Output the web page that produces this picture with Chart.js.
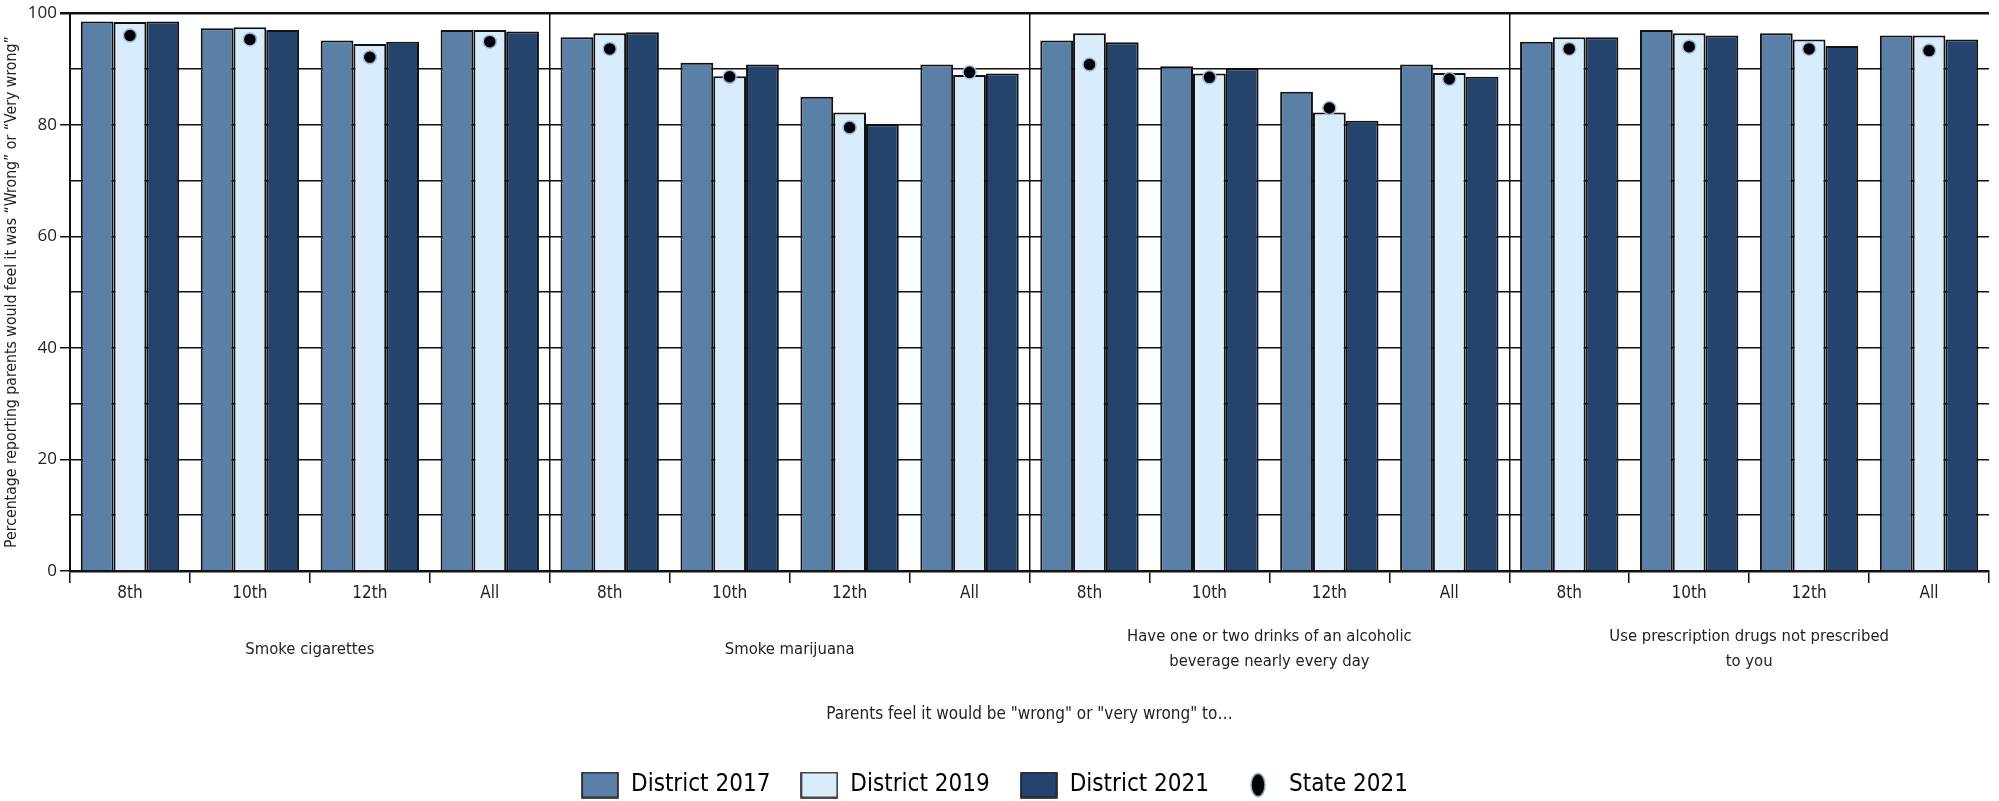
<!DOCTYPE html>
<html>
<head>
<meta charset="utf-8">
<title>Parents feel it would be wrong</title>
<script src="https://cdn.jsdelivr.net/npm/chart.js@4.4.0/dist/chart.umd.min.js"></script>
<style>
  html, body { margin: 0; padding: 0; background: #fff; }
</style>
</head>
<body>
<canvas id="myChart" width="1999" height="801"></canvas>
<script>
// categories under each group
const grades = ['8th', '10th', '12th', 'All'];
const groups = [
    'Smoke cigarettes',
    'Smoke marijuana',
    ['Have one or two drinks of an alcoholic', 'beverage nearly every day'],
    ['Use prescription drugs not prescribed', 'to you']
];
const seriesNames = ['District 2017', 'District 2019', 'District 2021', 'State 2021'];
const yTicks = [0, 20, 40, 60, 80, 100];

// values, four per group (8th, 10th, 12th, All)
const district2017 = [98.5, 97.3, 95.1, 97.0, 95.7, 91.1, 85.0, 90.8, 95.1, 90.5, 85.9, 90.8, 94.9, 97.0, 96.4, 96.0];
const district2019 = [98.4, 97.5, 94.5, 97.0, 96.4, 88.7, 82.2, 88.9, 96.4, 89.2, 82.2, 89.3, 95.7, 96.4, 95.3, 96.0];
const district2021 = [98.5, 97.0, 94.9, 96.7, 96.6, 90.8, 80.1, 89.2, 94.8, 90.1, 80.7, 88.6, 95.7, 96.0, 94.1, 95.3];
const state2021 = [96.0, 95.3, 92.1, 94.9, 93.6, 88.6, 79.5, 89.4, 90.8, 88.5, 83.0, 88.2, 93.6, 94.0, 93.6, 93.3];

const FONT = "'Liberation Sans Narrow', 'DejaVu Sans Condensed', sans-serif";
const colors = ['#5b80a8', '#d9ecfc', '#25446d'];
const lineCol = '#111';

Chart.defaults.font.family = FONT;
Chart.defaults.color = '#222';

// little pictures for the legend keys
function legendBox(fill) {
    var c = document.createElement('canvas');
    c.width = 38; c.height = 27;
    var g = c.getContext('2d');
    g.fillStyle = fill;
    g.fillRect(1, 1, 36, 25);
    g.strokeStyle = lineCol;
    g.lineWidth = 1.5;
    g.strokeRect(1, 1, 36, 25);
    return c;
}
function legendDot() {
    var c = document.createElement('canvas');
    c.width = 18; c.height = 27;
    var g = c.getContext('2d');
    g.beginPath();
    g.ellipse(9, 13.5, 7, 11.5, 0, 0, Math.PI * 2);
    g.fillStyle = '#000';
    g.fill();
    g.strokeStyle = '#8fb0d6';
    g.lineWidth = 1.5;
    g.stroke();
    return c;
}
const legendIcons = [legendBox(colors[0]), legendBox(colors[1]), legendBox(colors[2]), legendDot()];

const labels = groups.flatMap(() => grades);

function barSet(i, values) {
    return {
        label: seriesNames[i],
        data: values,
        backgroundColor: colors[i],
        borderColor: lineCol,
        borderWidth: 2,
        categoryPercentage: 0.82,
        barPercentage: 1.0,
        order: 1
    };
}

const data = {
    labels: labels,
    datasets: [
        barSet(0, district2017),
        barSet(1, district2019),
        barSet(2, district2021),
        {
            type: 'line',
            label: seriesNames[3],
            data: state2021,
            showLine: false,
            pointRadius: 6.5,
            pointBackgroundColor: '#000',
            pointBorderColor: '#9dbbe0',
            pointBorderWidth: 1.5,
            order: 0
        }
    ]
};

const config = {
    type: 'bar',
    data: data,
    options: {
        responsive: false,
        animation: false,
        events: [],
        layout: { padding: { top: 13, right: 10, left: 0, bottom: -6 } },
        plugins: {
            tooltip: { enabled: false },
            legend: {
                position: 'bottom',
                labels: {
                    usePointStyle: true,
                    pointStyleWidth: 38,
                    boxHeight: 24,
                    padding: 30,
                    font: { size: 24 },
                    color: '#222',
                    sort: (a, b) => a.datasetIndex - b.datasetIndex,
                    generateLabels: function (chart) {
                        return chart.data.datasets.map(function (ds, i) {
                            return {
                                text: ds.label,
                                datasetIndex: i,
                                pointStyle: legendIcons[i],
                                fillStyle: 'transparent',
                                strokeStyle: 'transparent',
                                lineWidth: 0,
                                hidden: false
                            };
                        });
                    }
                }
            }
        },
        scales: {
            x: {
                position: 'bottom',
                grid: {
                    offset: true,
                    color: ctx => ctx.index % 4 === 0 ? lineCol : 'rgba(0,0,0,0)',
                    lineWidth: 1.5,
                    tickColor: lineCol,
                    tickLength: 12
                },
                border: { color: lineCol, width: 2.5 },
                ticks: { font: { size: 17 }, padding: 0, maxRotation: 0, autoSkip: false },
                afterFit: s => { s.height = 40; }
            },
            x2: {
                type: 'category',
                position: 'bottom',
                labels: groups,
                offset: true,
                grid: { display: false },
                border: { display: false },
                ticks: {
                    font: { size: 16.5, lineHeight: 1.5 },
                    padding: 18,
                    maxRotation: 0,
                    autoSkip: false,
                    crossAlign: 'center'
                },
                title: {
                    display: true,
                    text: 'Parents feel it would be "wrong" or "very wrong" to\u2026',
                    font: { size: 17 },
                    padding: { top: 0, bottom: 18 }
                },
                afterFit: s => { s.height = 132; }
            },
            y: {
                min: 0,
                max: 100,
                ticks: {
                    stepSize: 10,
                    padding: 3,
                    font: { size: 17, family: "'Open Sans', sans-serif" },
                    callback: v => yTicks.includes(v) ? v : ''
                },
                grid: {
                    color: lineCol,
                    lineWidth: ctx => ctx.tick && ctx.tick.value === 100 ? 2.5 : 1.5,
                    tickColor: ctx => ctx.tick && yTicks.includes(ctx.tick.value) ? lineCol : 'rgba(0,0,0,0)',
                    tickLength: 10
                },
                border: { color: lineCol, width: 2 },
                title: {
                    display: true,
                    text: 'Percentage reporting parents would feel it was \u201cWrong\u201d or \u201cVery wrong\u201d',
                    font: { size: 15.7 },
                    padding: { top: 3, bottom: 0 }
                },
                afterFit: s => { s.width = 70; }
            }
        }
    }
};

const myChart = new Chart(document.getElementById('myChart'), config);
</script>
</body>
</html>
